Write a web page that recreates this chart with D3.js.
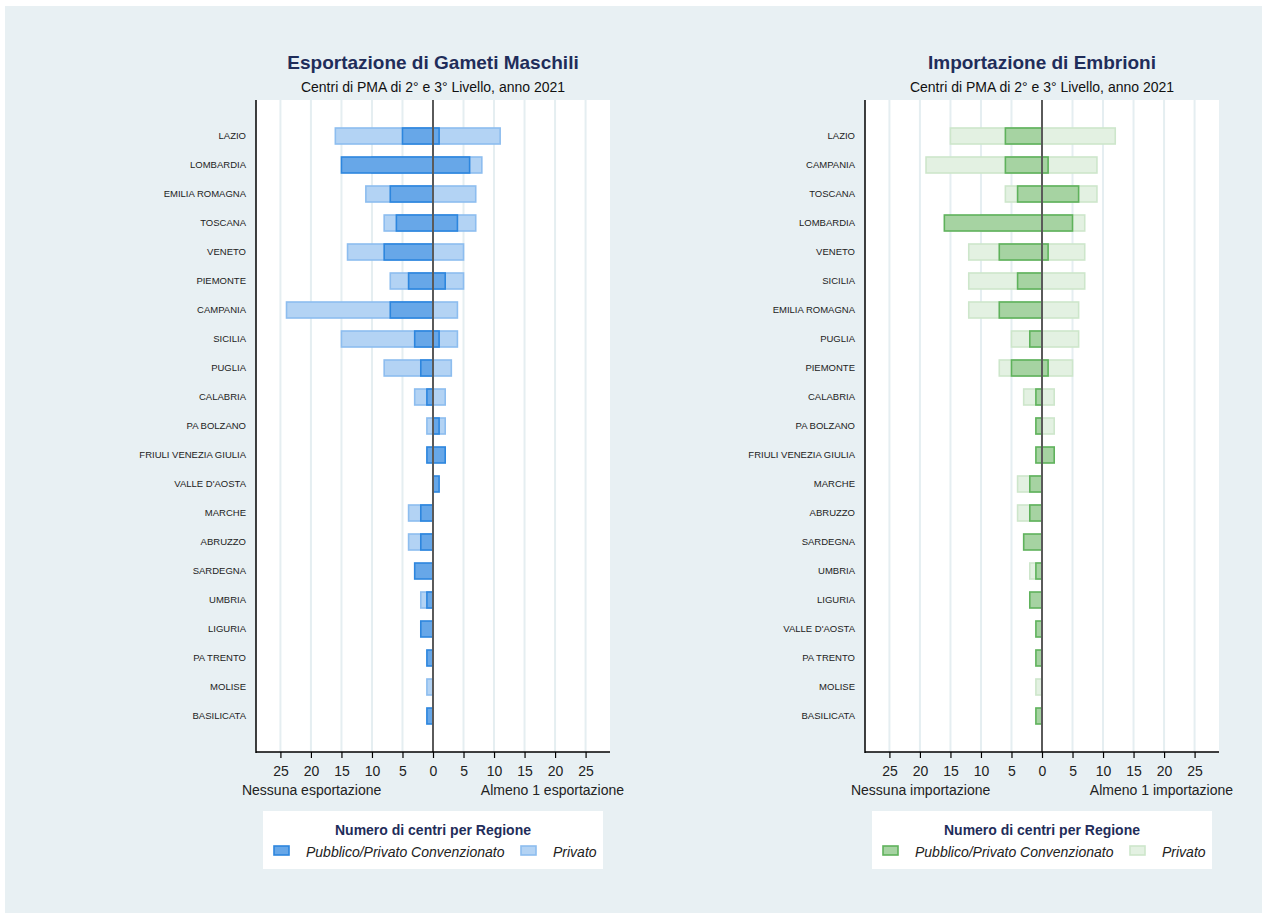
<!DOCTYPE html>
<html><head><meta charset="utf-8">
<script src="https://cdn.jsdelivr.net/npm/d3@7"></script>
<style>
body{margin:0;background:#fff;}
svg{display:block;font-family:"Liberation Sans",Arial,sans-serif;}
</style></head>
<body>
<svg id="chart" width="1262" height="916"></svg>
<script>
// ---- Data: Esportazione di Gameti Maschili ----
const expCategories = ["LAZIO","LOMBARDIA","EMILIA ROMAGNA","TOSCANA","VENETO","PIEMONTE","CAMPANIA","SICILIA","PUGLIA","CALABRIA","PA BOLZANO","FRIULI VENEZIA GIULIA","VALLE D'AOSTA","MARCHE","ABRUZZO","SARDEGNA","UMBRIA","LIGURIA","PA TRENTO","MOLISE","BASILICATA"];
const expPubNo  = [5,15,7,6,8,4,7,3,2,1,0,1,0,2,2,3,1,2,1,0,1];
const expPubYes = [1,6,0,4,0,2,0,1,0,0,1,2,1,0,0,0,0,0,0,0,0];
const expPrivNo  = [16,10,11,8,14,7,24,15,8,3,1,0,0,4,4,0,2,0,0,1,0];
const expPrivYes = [11,8,7,7,5,5,4,4,3,2,2,0,0,0,0,0,0,0,0,0,0];

// ---- Data: Importazione di Embrioni ----
const impCategories = ["LAZIO","CAMPANIA","TOSCANA","LOMBARDIA","VENETO","SICILIA","EMILIA ROMAGNA","PUGLIA","PIEMONTE","CALABRIA","PA BOLZANO","FRIULI VENEZIA GIULIA","MARCHE","ABRUZZO","SARDEGNA","UMBRIA","LIGURIA","VALLE D'AOSTA","PA TRENTO","MOLISE","BASILICATA"];
const impPubNo  = [6,6,4,16,7,4,7,2,5,1,1,1,2,2,3,1,2,1,1,0,1];
const impPubYes = [0,1,6,5,1,0,0,0,1,0,0,2,0,0,0,0,0,0,0,0,0];
const impPrivNo  = [15,19,6,10,12,12,12,5,7,3,1,0,4,4,0,2,0,0,0,1,0];
const impPrivYes = [12,9,9,7,7,7,6,6,5,2,2,0,0,0,0,0,0,0,0,0,0];

const tickValues = [-25,-20,-15,-10,-5,0,5,10,15,20,25];

const svg = d3.select("#chart");
svg.append("rect").attr("x",5).attr("y",6).attr("width",1257).attr("height",907).attr("fill","#e8f0f3");

function panel(cfg){
  const g = svg.append("g");
  const x = d3.scaleLinear().domain([-29,29]).range([cfg.x0, cfg.x1]);
  const y = d3.scalePoint().domain(cfg.cats).range([136,716]);
  const top = 100, bottom = 752, bh = 16;
  g.append("rect").attr("x",cfg.x0).attr("y",top).attr("width",cfg.x1-cfg.x0).attr("height",bottom-top).attr("fill","#fff");
  g.selectAll(".grid").data(tickValues.filter(v=>v!==0)).join("line")
    .attr("x1",d=>x(d)).attr("x2",d=>x(d)).attr("y1",top).attr("y2",bottom)
    .attr("stroke","#e5eef1").attr("stroke-width",2);
  const rows = cfg.cats.map((c,i)=>({c,i}));
  function bars(negArr,posArr,fill,stroke){
    rows.forEach(r=>{
      const n = negArr[r.i], p = posArr[r.i];
      if(n>0) g.append("rect").attr("x",x(-n)).attr("y",y(r.c)-bh/2).attr("width",x(0)-x(-n)).attr("height",bh)
        .attr("fill",fill).attr("stroke",stroke).attr("stroke-width",1.6);
      if(p>0) g.append("rect").attr("x",x(0)).attr("y",y(r.c)-bh/2).attr("width",x(p)-x(0)).attr("height",bh)
        .attr("fill",fill).attr("stroke",stroke).attr("stroke-width",1.6);
    });
  }
  bars(cfg.privNo,cfg.privYes,cfg.lightFill,cfg.lightStroke);
  bars(cfg.pubNo,cfg.pubYes,cfg.darkFill,cfg.darkStroke);
  g.append("line").attr("x1",x(0)).attr("x2",x(0)).attr("y1",top).attr("y2",bottom).attr("stroke","#5a5a5a").attr("stroke-width",2);
  g.append("line").attr("x1",cfg.x0).attr("x2",cfg.x0).attr("y1",top).attr("y2",bottom+1).attr("stroke","#000").attr("stroke-width",1.5);
  g.selectAll(".cat").data(cfg.cats).join("text")
    .attr("x",cfg.x0-10).attr("y",d=>y(d)).attr("dy","0.35em").attr("text-anchor","end")
    .attr("font-size",9.5).attr("fill","#222").text(d=>d);
  const ax = g.append("g").attr("transform",`translate(0,${bottom})`)
    .call(d3.axisBottom(x).tickValues(tickValues).tickFormat(d=>Math.abs(d)).tickSize(6).tickPadding(8));
  ax.select(".domain").attr("stroke","#000").attr("stroke-width",1.5).attr("d",`M${cfg.x0},0H${cfg.x1}`);
  ax.selectAll(".tick line").attr("stroke","#000").attr("stroke-width",1.2);
  ax.selectAll(".tick text").attr("font-size",14).attr("fill","#222").attr("font-family","Liberation Sans, Arial, sans-serif");
  g.append("text").attr("x",x(-31.3)).attr("y",795).attr("font-size",14).attr("fill","#222").text(cfg.leftLabel);
  g.append("text").attr("x",x(31.3)).attr("y",795).attr("text-anchor","end").attr("font-size",14).attr("fill","#222").text(cfg.rightLabel);
  const cx = x(0);
  g.append("text").attr("x",cx).attr("y",69).attr("text-anchor","middle").attr("font-size",19).attr("font-weight","bold").attr("fill","#1f2d5a").text(cfg.title);
  g.append("text").attr("x",cx).attr("y",92).attr("text-anchor","middle").attr("font-size",14).attr("fill","#111").text("Centri di PMA di 2° e 3° Livello, anno 2021");
  const lx = cfg.x0+7;
  g.append("rect").attr("x",lx).attr("y",811).attr("width",340).attr("height",58).attr("fill","#fff");
  g.append("text").attr("x",cx).attr("y",835).attr("text-anchor","middle").attr("font-size",14).attr("font-weight","bold").attr("fill","#1f2d5a").text("Numero di centri per Regione");
  g.append("rect").attr("x",lx+11).attr("y",846).attr("width",15).attr("height",9).attr("fill",cfg.darkFill).attr("stroke",cfg.darkStroke).attr("stroke-width",1.6);
  g.append("text").attr("x",lx+43).attr("y",857).attr("font-size",14).attr("font-style","italic").attr("fill","#222").text("Pubblico/Privato Convenzionato");
  g.append("rect").attr("x",lx+258).attr("y",846).attr("width",15).attr("height",9).attr("fill",cfg.lightFill).attr("stroke",cfg.lightStroke).attr("stroke-width",1.6);
  g.append("text").attr("x",lx+290).attr("y",857).attr("font-size",14).attr("font-style","italic").attr("fill","#222").text("Privato");
}

panel({x0:256,x1:610,cats:expCategories,pubNo:expPubNo,pubYes:expPubYes,privNo:expPrivNo,privYes:expPrivYes,
  darkFill:"#67a7e8",darkStroke:"#2d86de",lightFill:"#b3d3f4",lightStroke:"#8dbdef",
  title:"Esportazione di Gameti Maschili",leftLabel:"Nessuna esportazione",rightLabel:"Almeno 1 esportazione"});
panel({x0:865,x1:1219,cats:impCategories,pubNo:impPubNo,pubYes:impPubYes,privNo:impPrivNo,privYes:impPrivYes,
  darkFill:"#a6d3a2",darkStroke:"#5fb25c",lightFill:"#e3f1e2",lightStroke:"#cde6cb",
  title:"Importazione di Embrioni",leftLabel:"Nessuna importazione",rightLabel:"Almeno 1 importazione"});
</script>
</body></html>
